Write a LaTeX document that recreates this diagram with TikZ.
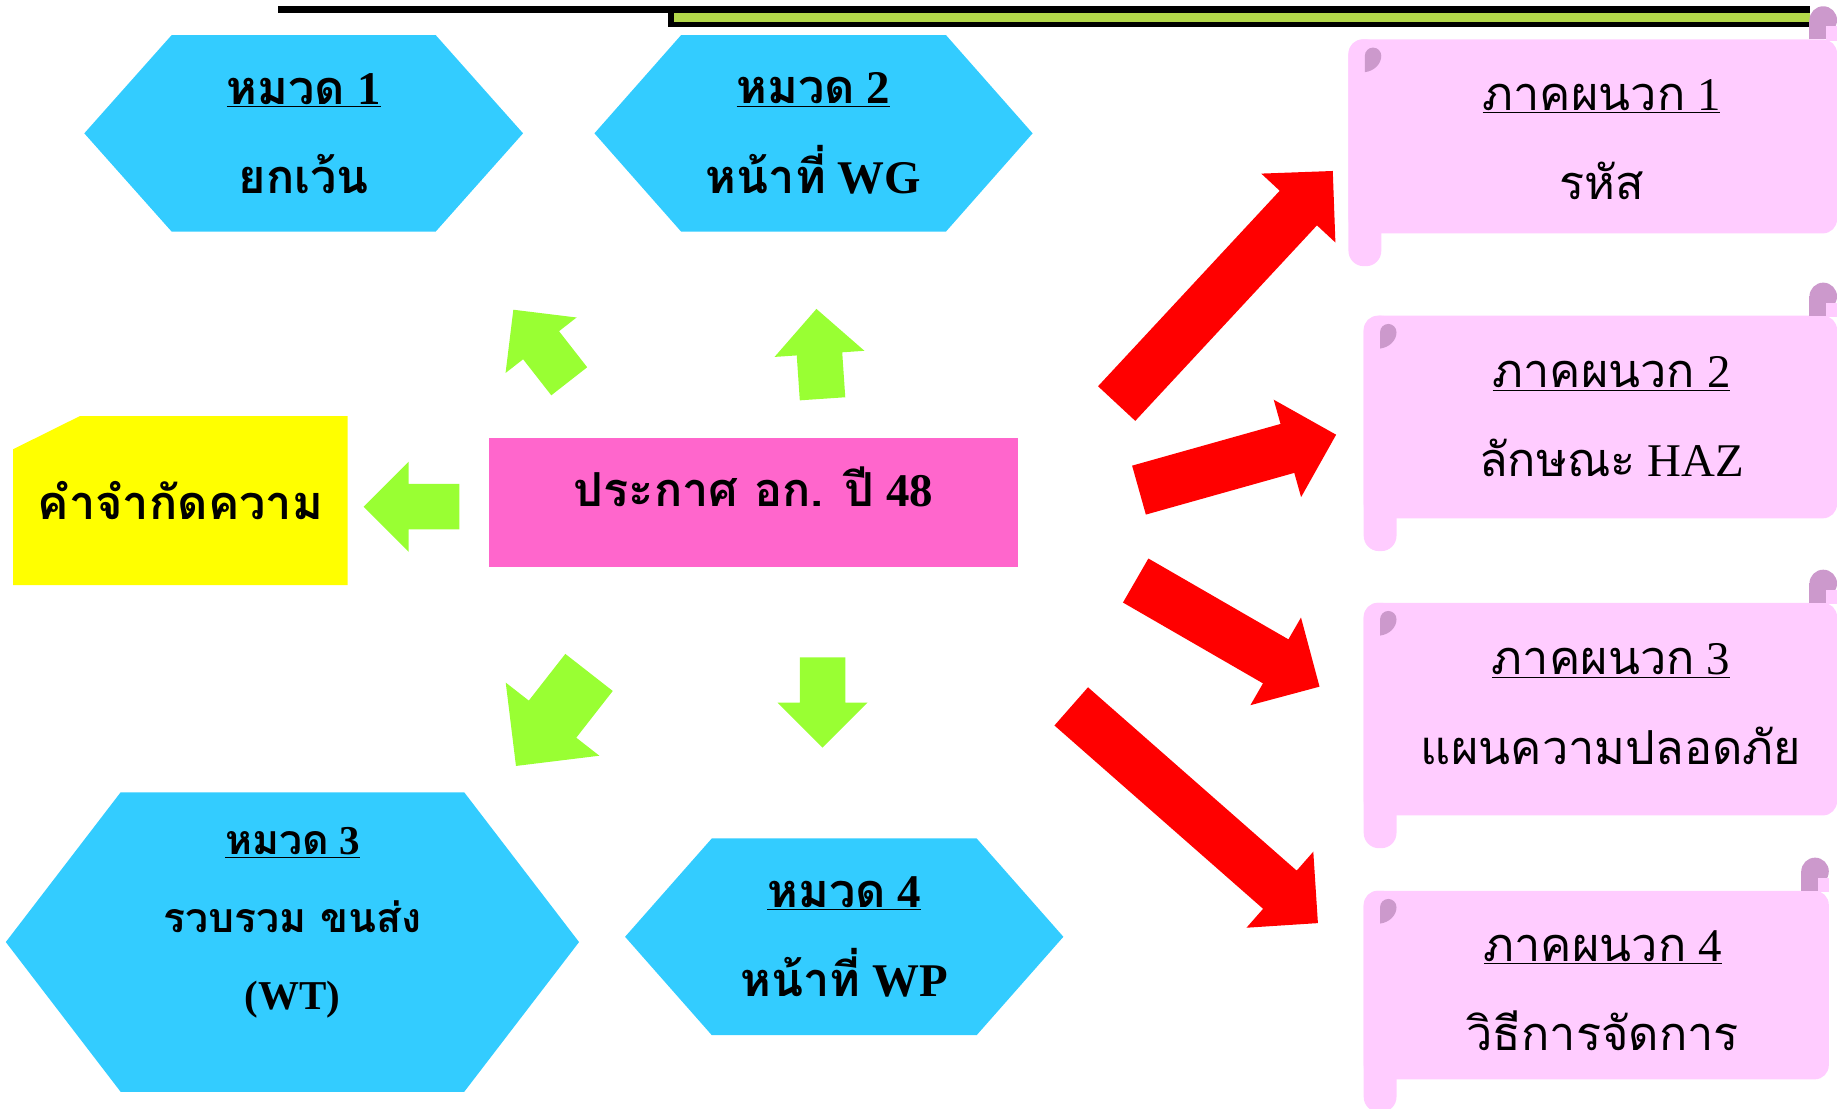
\documentclass[tikz,border=0pt]{standalone}
\usepackage{fontspec}
\setmainfont{Liberation Serif}
\newfontfamily\thai[Script=Thai,Scale=1.0]{Loma}
\usetikzlibrary{shapes.arrows}

\definecolor{hexblue}{HTML}{33CCFF}
\definecolor{arrowgreen}{HTML}{99FF33}
\definecolor{notepink}{HTML}{FF66CC}
\definecolor{scrollpink}{HTML}{FFCCFF}
\definecolor{curlpink}{HTML}{CC99CC}
\definecolor{bargreen}{HTML}{B3D84A}
\definecolor{defyellow}{HTML}{FFFF00}

\tikzstyle{redarrow}=[single arrow, fill=red, inner xsep=0pt, inner ysep=21.5pt, single arrow head extend=21.5pt, anchor=tail]
\tikzstyle{greenarrow}=[single arrow, fill=arrowgreen, inner xsep=0pt, inner ysep=19.25pt, single arrow head extend=19pt, anchor=tail]
\tikzstyle{cattext}=[align=center, inner sep=0pt, font=\bfseries\fontsize{40}{76}\selectfont]
\tikzstyle{apptext}=[align=center, inner sep=0pt, font=\fontsize{40}{76}\selectfont]
\tikzset{hexbox/.style={cattext, path picture={\fill[hexblue] (path picture bounding box.west) -- ([xshift=#1]path picture bounding box.north west) -- ([xshift=-#1]path picture bounding box.north east) -- (path picture bounding box.east) -- ([xshift=-#1]path picture bounding box.south east) -- ([xshift=#1]path picture bounding box.south west) -- cycle;}}}
\tikzset{defbox/.style={cattext, path picture={\fill[defyellow] ([yshift=-28.4pt]path picture bounding box.north west) -- ([xshift=57.2pt]path picture bounding box.north west) -- (path picture bounding box.north east) -- (path picture bounding box.south east) -- (path picture bounding box.south west) -- cycle;}}}

\begin{document}
\begin{tikzpicture}[x=1pt, y=-1pt]

    \useasboundingbox (0,0) rectangle (1568,945.8);

    % title bar
    \fill[black] (570,5.1) rectangle (1545,23.3);
    \fill[bargreen] (575,10.8) rectangle (1545,18.5);
    \fill[black] (237,5.1) rectangle (625,10.8);

    % scrolls on the right
    \foreach \l/\t/\r/\b in {1151/33.6/1568/199.2, 1164/269.5/1568/442.4, 1164/514.5/1568/696, 1164/760.3/1561/921.3}{
        \fill[scrollpink, rounded corners=12pt] (\l,\t) rectangle (\r,\b);
        \fill[scrollpink, rounded corners=13pt] (\l,\t) rectangle (\l+28,\b+28);
        \fill[curlpink] (\r-11.75,\t-16.5) circle (11.75pt);
        \fill[curlpink] (\r-23.5,\t-16.5) rectangle (\r-9,\t);
        \fill[scrollpink] (\r-9,\t-11) rectangle (\r,\t+1);
        \fill[curlpink] (\l+14,\t+28) -- (\l+14,\t+14) arc[start angle=180, end angle=360, radius=7] .. controls (\l+28,\t+21) and (\l+22,\t+27) .. (\l+14,\t+28);
    }

    % blue categories
    \node[hexbox=74.6pt, minimum width=374.5pt, minimum height=167.8pt] (cat1) at (259.2,113.8) {\underline{{\thai หมวด} 1}\\{\thai ยกเว้น}};
    \node[hexbox=74pt, minimum width=374pt, minimum height=167.8pt] (cat2) at (694.4,113.8) {\underline{{\thai หมวด} 2}\\{\thai หน้าที่} WG};
    \node[hexbox=98pt, minimum width=489.3pt, minimum height=255.6pt, font=\bfseries\fontsize{35}{66}\selectfont, text depth=40pt] (cat3) at (249.6,804.1) {\underline{{\thai หมวด} 3}\\{\thai รวบรวม ขนส่ง}\\(WT)};
    \node[hexbox=74pt, minimum width=374.1pt, minimum height=167.9pt] (cat4) at (720.6,799.6) {\underline{{\thai หมวด} 4}\\{\thai หน้าที่} WP};

    % definitions and notice
    \node[defbox, minimum width=285.7pt, minimum height=144.3pt] (defn) at (153.95,427.25) {\thai คำจำกัดความ};
    \node[cattext, fill=notepink, minimum width=451.6pt, minimum height=110.1pt, text depth=27pt] (notice) at (643.2,428.65) {{\thai ประกาศ อก. ปี} 48};

    % appendices
    \node[apptext] (app1) at (1367,119.5) {\underline{{\thai ภาคผนวก} 1}\\{\thai รหัส}};
    \node[apptext] (app2) at (1375.5,356) {\underline{{\thai ภาคผนวก} 2}\\{\thai ลักษณะ} HAZ};
    \node[apptext] (app3) at (1375,601) {\underline{{\thai ภาคผนวก} 3}\\{\thai แผนความปลอดภัย}};
    \node[apptext] (app4) at (1368,845.8) {\underline{{\thai ภาคผนวก} 4}\\{\thai วิธีการจัดการ}};

    % green arrows
    \foreach \name/\x/\y/\ang/\len in {toDefn/392.2/432.5/180/81.6, toCat1/486/325.6/128/77.5, toCat2/702.1/340.6/93.9/76.9, toCat4/702.1/560.8/270/77.1}
        \node[greenarrow, minimum height=\len pt, rotate=\ang] (\name) at (\x,\y) {};
    \node[greenarrow, inner ysep=25.5pt, single arrow head extend=25pt, minimum height=101.3pt, rotate=232] (toCat3) at (502.9,573.8) {};

    % red arrows
    \foreach \name/\x/\y/\ang/\len in {toApp1/953/344.6/47.1/271, toApp2/972/418.4/15.7/174.8, toApp3/969.2/495.4/-30/181.2, toApp4/914.2/602.8/-41.3/280.3}
        \node[redarrow, minimum height=\len pt, rotate=\ang] (\name) at (\x,\y) {};

\end{tikzpicture}
\end{document}
